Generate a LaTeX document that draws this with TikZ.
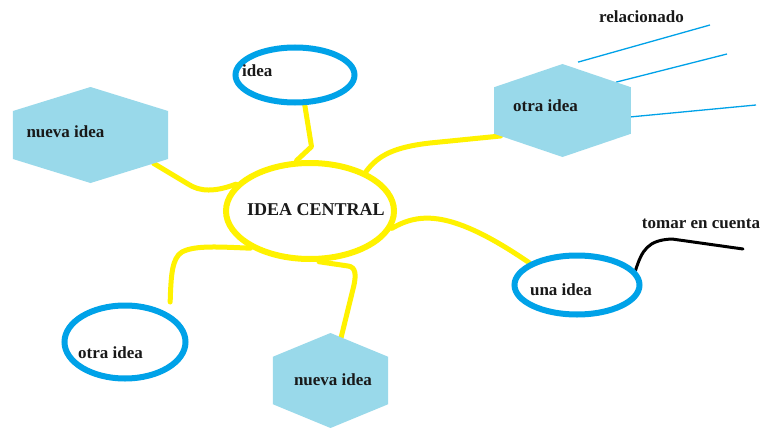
\documentclass[tikz,border=0pt]{standalone}
\usepackage{fontspec}
\setmainfont{Liberation Serif}
\usetikzlibrary{shapes.geometric}
\definecolor{ypaint}{HTML}{FFF200}
\definecolor{bpaint}{HTML}{00A2E8}
\definecolor{hpaint}{HTML}{99D9EA}
\pgfdeclarelayer{bg}
\pgfsetlayers{bg,main}
\begin{document}
\begin{tikzpicture}[x=1pt,y=-1pt,
  oval/.style={ellipse, draw=bpaint, line width=6pt, inner sep=0pt, fill=white},
  centre/.style={ellipse, draw=ypaint, line width=6pt, inner sep=0pt, fill=white},
  hexa/.style={regular polygon, regular polygon sides=6, shape border rotate=30, fill=hpaint, inner sep=0pt, outer sep=0pt, minimum size=#1},
  lab/.style={font=\fontsize{17}{20}\selectfont\bfseries, inner sep=0pt, anchor=base, text=black!90},
  yl/.style={draw=ypaint, line width=5pt, line cap=round, line join=round},
  bl/.style={draw=bpaint, line width=1.3pt},
  kl/.style={draw=black, line width=3pt, line cap=round, line join=round}]
\useasboundingbox (0,0) rectangle (763,428);

% shapes
\node[centre, minimum width=168pt, minimum height=96pt] (central) at (310,211) {};
\node[oval, minimum width=119pt, minimum height=55pt] (idea) at (295,75) {};
\node[oval, minimum width=125pt, minimum height=59pt] (una) at (577,285) {};
\node[oval, minimum width=121pt, minimum height=73pt] (otra) at (125,342) {};
\node[hexa=96pt, xscale=1.865] (hexA) at (90.5,135) {};
\node[hexa=93pt, xscale=1.70] (hexB) at (562.5,110.5) {};
\node[hexa=95pt, xscale=1.40] (hexC) at (330.5,380.5) {};

% free ends
\coordinate (r1) at (710,25);
\coordinate (r2) at (727,54);
\coordinate (r3) at (756,105);
\coordinate (tomarEnd) at (743,249);

% texts
\node[lab, anchor=base west] (tIdea) at (242,77) {idea};
\node[lab] (tNueva1) at (65.5,137) {nueva idea};
\node[lab] (tOtra1) at (545.5,111) {otra idea};
\node[lab, font=\fontsize{18}{21}\selectfont\bfseries] (tCentral) at (316,215) {IDEA CENTRAL};
\node[lab] (tUna) at (561,295) {una idea};
\node[lab] (tOtra2) at (110.5,358) {otra idea};
\node[lab] (tNueva2) at (333,385) {nueva idea};
\node[lab] (tTomar) at (701,228) {tomar en cuenta};
\node[lab] (tRel) at (641.5,23) {relacionado};

\begin{pgfonlayer}{bg}
\fill[white] (0,0) rectangle (763,428);
\draw[yl] (central.105) -- ++(15,-14) -- (idea.-72);
\draw[yl] (hexA.-40) -- (188,184) .. controls (200,192) and (215,192) .. (central.160);
\draw[yl] (central.35) .. controls (378,155) and (395,147) .. (430,143) -- (hexB.-145);
\draw[yl] (central.-12) .. controls (420,212) and (452,210) .. (una.155);
\draw[yl, shorten >=12pt] (central.212) .. controls (220,247) and (195,245) .. (182,252) .. controls (172,258) and (171,275) .. (otra.32);
\draw[yl] (central.280) -- (348,266) .. controls (356,267) and (356,275) .. (354,285) -- (hexC.80);
\draw[kl] (una.14) .. controls (642,250) and (648,240) .. (672,239) -- (tomarEnd);
\draw[bl, shorten <=12pt] (hexB.87) -- (r1);
\draw[bl] (hexB.42) -- (r2);
\draw[bl] (hexB.-9) -- (r3);
\end{pgfonlayer}
\end{tikzpicture}
\end{document}
